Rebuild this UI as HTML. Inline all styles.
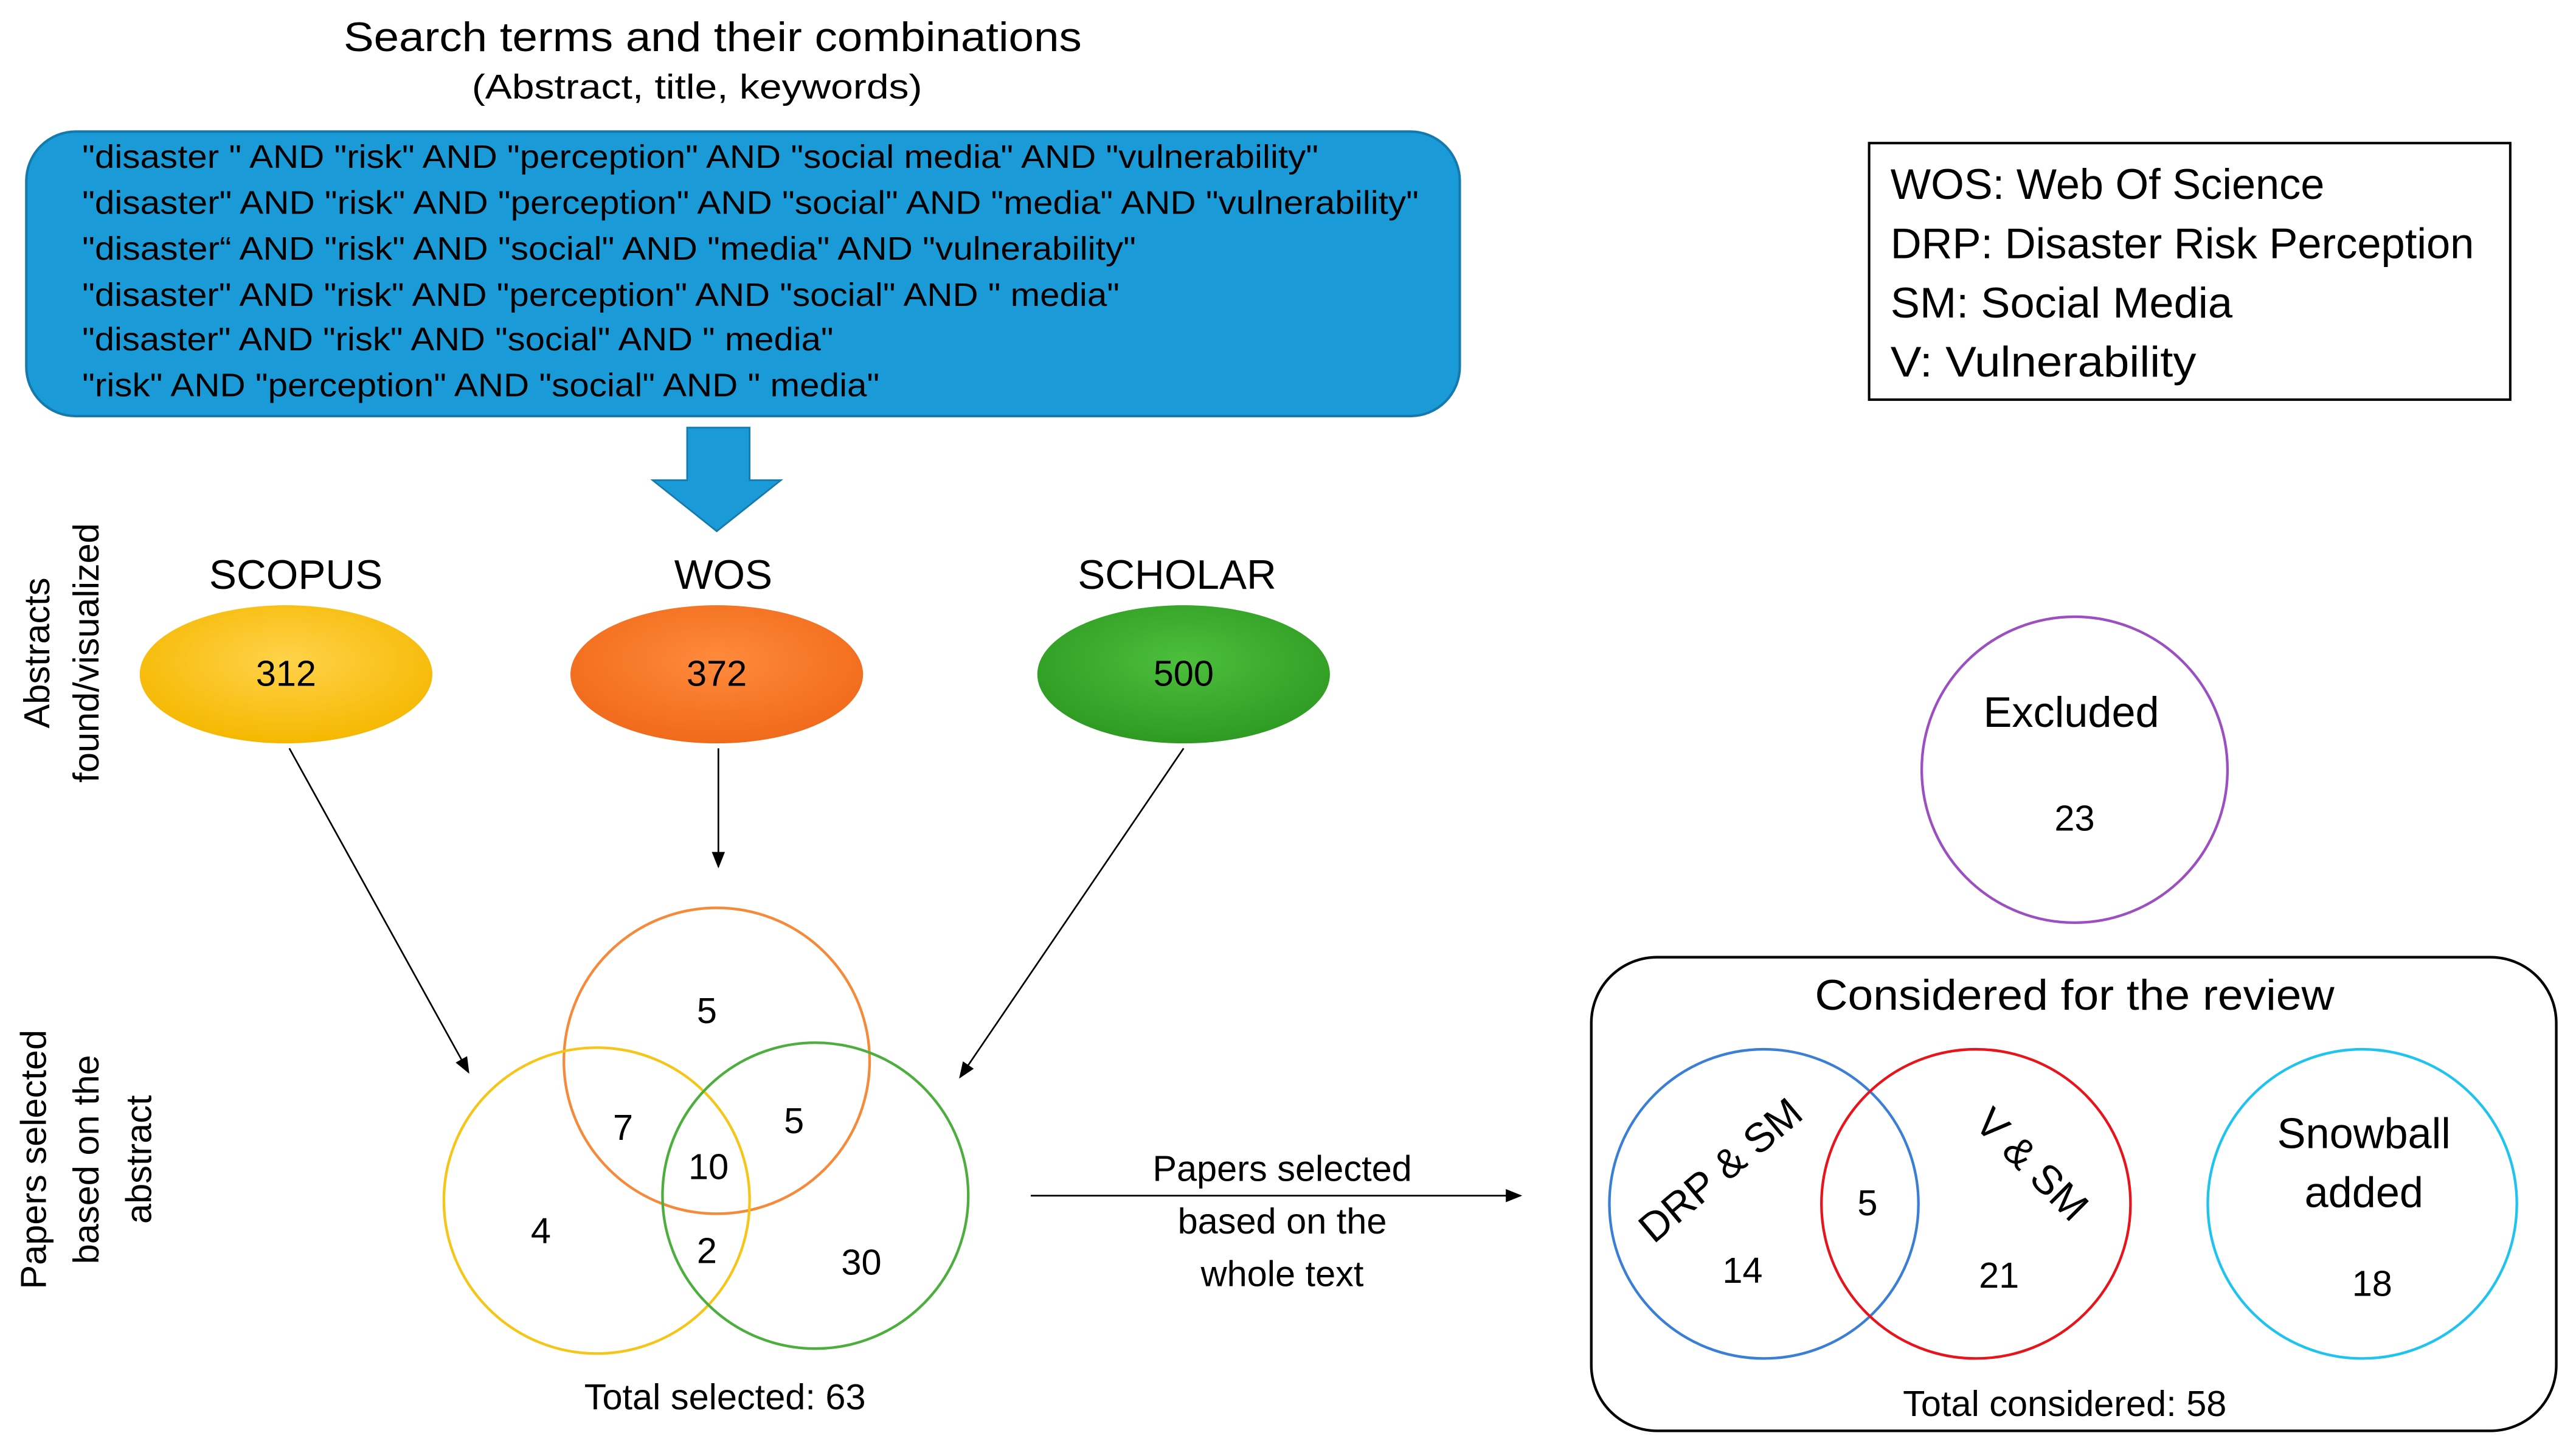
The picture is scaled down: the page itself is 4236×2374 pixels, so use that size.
<!DOCTYPE html>
<html><head><meta charset="utf-8"><style>
html,body{margin:0;padding:0;background:#fff;}
svg{display:block;}
text{font-family:"Liberation Sans",sans-serif;fill:#000;}
</style></head><body>
<svg width="4236" height="2374" viewBox="0 0 1567 878" preserveAspectRatio="none" xmlns="http://www.w3.org/2000/svg">
<defs>
<marker id="ah" markerWidth="10" markerHeight="10" refX="9" refY="5" orient="auto" markerUnits="userSpaceOnUse"><path d="M0,1 L10,5 L0,9 z" fill="#000"/></marker>
<radialGradient id="gy" cx="50%" cy="40%" r="60%"><stop offset="0" stop-color="#ffd24a"/><stop offset="1" stop-color="#f5b800"/></radialGradient>
<radialGradient id="go" cx="50%" cy="40%" r="60%"><stop offset="0" stop-color="#ff8a3c"/><stop offset="1" stop-color="#f06a1a"/></radialGradient>
<radialGradient id="gg" cx="50%" cy="40%" r="60%"><stop offset="0" stop-color="#4cbf3c"/><stop offset="1" stop-color="#2e9a22"/></radialGradient>
</defs>
<text x="209" y="31" font-size="25" textLength="449" lengthAdjust="spacingAndGlyphs">Search terms and their combinations</text>
<text x="287" y="60" font-size="21" textLength="274" lengthAdjust="spacingAndGlyphs">(Abstract, title, keywords)</text>
<rect x="16" y="80" width="872" height="173" rx="30" fill="#1a9ad6" stroke="#1479ad" stroke-width="1.5"/>
<g font-size="20" fill="#111" lengthAdjust="spacingAndGlyphs">
<text x="50" y="102" textLength="752" lengthAdjust="spacingAndGlyphs">"disaster " AND "risk" AND "perception" AND "social media" AND "vulnerability"</text>
<text x="50" y="130" textLength="813" lengthAdjust="spacingAndGlyphs">"disaster" AND "risk" AND "perception" AND "social" AND "media" AND "vulnerability"</text>
<text x="50" y="158" textLength="641" lengthAdjust="spacingAndGlyphs">"disaster“ AND "risk" AND "social" AND "media" AND "vulnerability"</text>
<text x="50" y="186" textLength="631" lengthAdjust="spacingAndGlyphs">"disaster" AND "risk" AND "perception" AND "social" AND " media"</text>
<text x="50" y="213" textLength="457" lengthAdjust="spacingAndGlyphs">"disaster" AND "risk" AND "social" AND " media"</text>
<text x="50" y="241" textLength="485" lengthAdjust="spacingAndGlyphs">"risk" AND "perception" AND "social" AND " media"</text>
</g>
<path d="M418,260 H456 V292 H475 L436,323 L397,292 H418 z" fill="#1a9ad6" stroke="#1479ad"/>
<rect x="1137" y="87" width="390" height="156" fill="#fff" stroke="#000" stroke-width="1.5"/>
<g font-size="26"><text x="1150" y="121" textLength="264" lengthAdjust="spacingAndGlyphs">WOS: Web Of Science</text><text x="1150" y="157" textLength="355" lengthAdjust="spacingAndGlyphs">DRP: Disaster Risk Perception</text><text x="1150" y="193" textLength="208" lengthAdjust="spacingAndGlyphs">SM: Social Media</text><text x="1150" y="229" textLength="186" lengthAdjust="spacingAndGlyphs">V: Vulnerability</text></g>
<g font-size="22" text-anchor="middle">
<text transform="translate(30,397) rotate(-90)">Abstracts</text>
<text transform="translate(60,397) rotate(-90)">found/visualized</text>
<text transform="translate(28,705) rotate(-90)">Papers selected</text>
<text transform="translate(60,705) rotate(-90)">based on the</text>
<text transform="translate(92,705) rotate(-90)">abstract</text>
</g>
<g font-size="25" text-anchor="middle"><text x="180" y="358">SCOPUS</text><text x="440" y="358">WOS</text><text x="716" y="358">SCHOLAR</text></g>
<ellipse cx="174" cy="410" rx="89" ry="42" fill="url(#gy)"/>
<ellipse cx="436" cy="410" rx="89" ry="42" fill="url(#go)"/>
<ellipse cx="720" cy="410" rx="89" ry="42" fill="url(#gg)"/>
<g font-size="22" text-anchor="middle"><text x="174" y="417">312</text><text x="436" y="417">372</text><text x="720" y="417">500</text></g>
<g stroke="#000" stroke-width="1" marker-end="url(#ah)">
<line x1="176" y1="455" x2="285" y2="652"/>
<line x1="437" y1="455" x2="437" y2="527"/>
<line x1="720" y1="455" x2="584" y2="655"/>
<line x1="627" y1="727" x2="925" y2="727"/>
</g>
<g fill="none" stroke-width="1.6">
<circle cx="436" cy="645" r="93" stroke="#f58a3a"/>
<circle cx="363" cy="730" r="93" stroke="#f5c518"/>
<circle cx="496" cy="727" r="93" stroke="#4cae3c"/>
</g>
<g font-size="22" text-anchor="middle">
<text x="430" y="622">5</text><text x="379" y="693">7</text><text x="483" y="689">5</text><text x="431" y="717">10</text>
<text x="329" y="756">4</text><text x="430" y="768">2</text><text x="524" y="775">30</text>
<text x="441" y="857">Total selected: 63</text>
<text x="780" y="718">Papers selected</text><text x="780" y="750">based on the</text><text x="780" y="782">whole text</text>
</g>
<circle cx="1262" cy="468" r="93" fill="none" stroke="#9b4fc0" stroke-width="1.6"/>
<text x="1260" y="442" font-size="26" text-anchor="middle">Excluded</text>
<text x="1262" y="505" font-size="22" text-anchor="middle">23</text>
<rect x="968" y="582" width="587" height="288" rx="40" fill="none" stroke="#000" stroke-width="1.6"/>
<text x="1104" y="614" font-size="26" textLength="316" lengthAdjust="spacingAndGlyphs">Considered for the review</text>
<g fill="none" stroke-width="1.6">
<circle cx="1073" cy="732" r="94" stroke="#3a7fd5"/>
<circle cx="1202" cy="732" r="94" stroke="#e8141c"/>
<circle cx="1437" cy="732" r="94" stroke="#1ec3ef"/>
</g>
<g font-size="25" text-anchor="middle">
<text transform="translate(1052,718) rotate(-40)">DRP &amp; SM</text>
<text transform="translate(1230,714) rotate(45)">V &amp; SM</text>
<text x="1438" y="698" font-size="26">Snowball</text><text x="1438" y="734" font-size="26">added</text>
</g>
<g font-size="22" text-anchor="middle">
<text x="1060" y="780">14</text><text x="1136" y="739">5</text><text x="1216" y="783">21</text><text x="1443" y="788">18</text>
<text x="1256" y="861">Total considered: 58</text>
</g>
</svg>
</body></html>
